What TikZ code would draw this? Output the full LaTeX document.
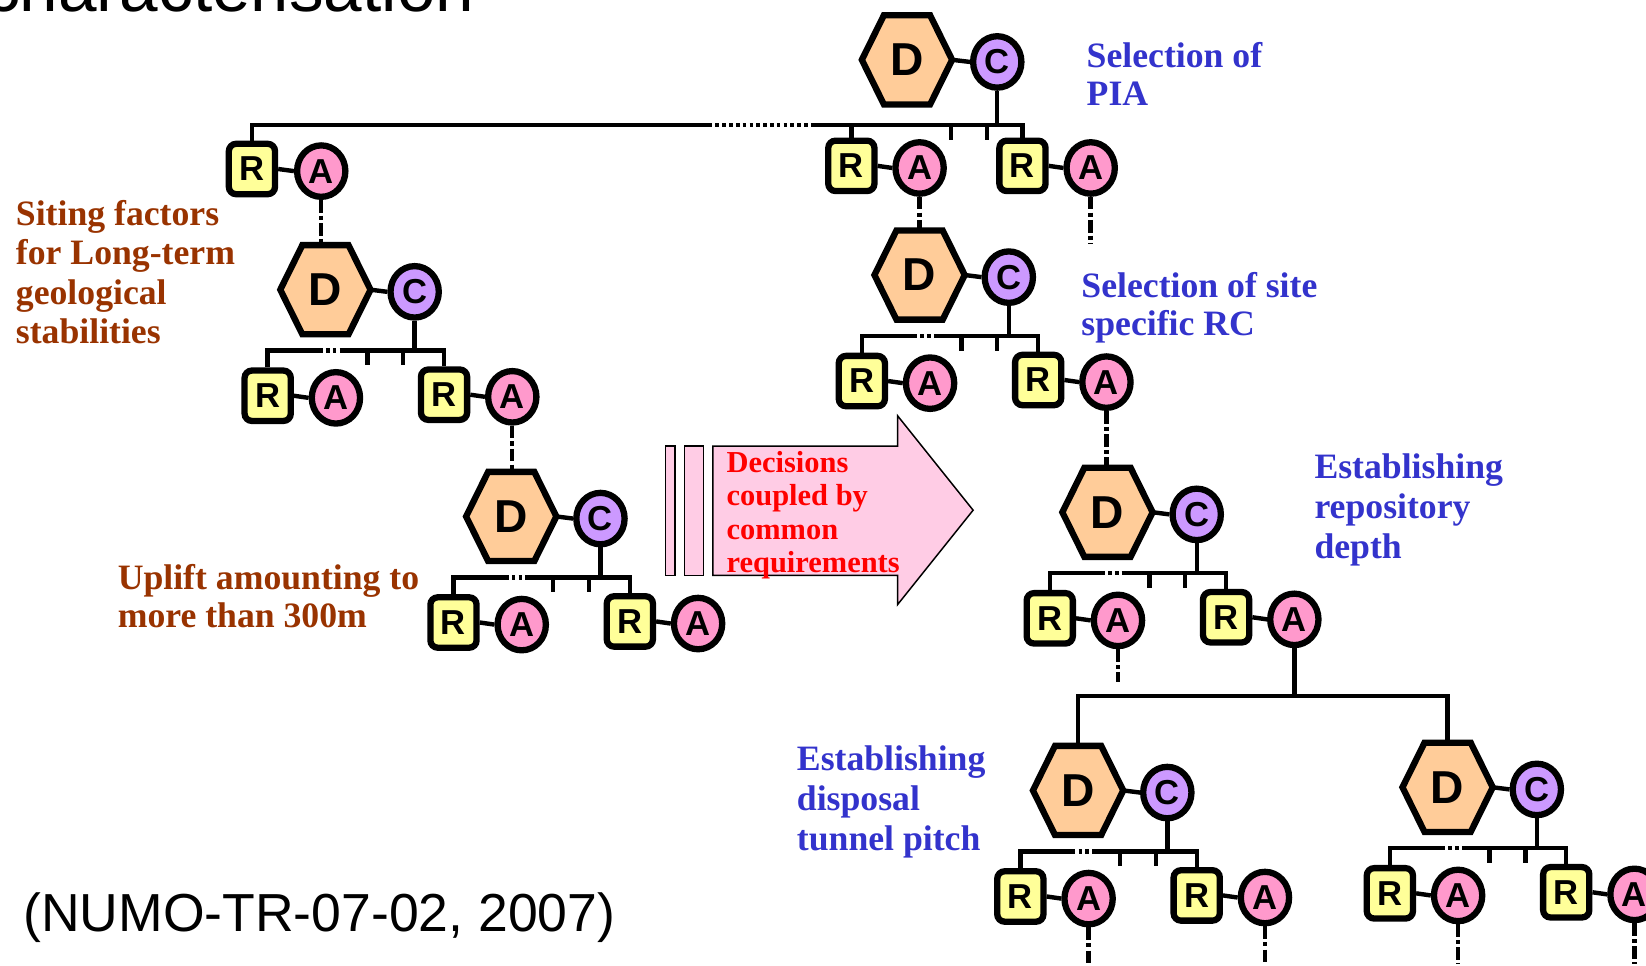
\documentclass[tikz,border=0pt]{standalone}
\usepackage{fontspec}
\setmainfont{Liberation Serif}
\newfontfamily\arialf{Liberation Sans}
\usetikzlibrary{shapes.geometric}
\definecolor{hexfill}{HTML}{FFCC99}
\definecolor{cfill}{HTML}{CC99FF}
\definecolor{rfill}{HTML}{FFFF99}
\definecolor{afill}{HTML}{FF99CC}
\definecolor{arrowfill}{HTML}{FFCCE5}
\definecolor{bluetext}{HTML}{3333CC}
\definecolor{browntext}{HTML}{993300}
\definecolor{redtext}{HTML}{FF0000}
\pgfdeclarelayer{background}
\pgfsetlayers{background,main}
\tikzset{
  hexborder/.style={draw=black, line width=6pt, fill=hexfill, line join=miter},
  hexlabel/.style={rectangle, minimum width=86pt, minimum height=85pt, inner sep=0pt,
    font=\arialf\bfseries\fontsize{44}{44}\selectfont},
  cnode/.style={ellipse, draw=black, line width=6pt, fill=cfill, minimum width=46pt,
    minimum height=49pt, inner sep=0pt, font=\arialf\bfseries\fontsize{33}{33}\selectfont},
  anode/.style={cnode, fill=afill},
  rnode/.style={rectangle, rounded corners=7pt, draw=black, line width=6pt, fill=rfill,
    minimum width=44pt, minimum height=48pt, inner sep=0pt,
    font=\arialf\bfseries\fontsize{33}{33}\selectfont},
  conn/.style={draw=black, line width=4.2pt},
  dotbar/.style={conn, dash pattern=on 3.5pt off 3pt},
  dashdot/.style={conn, dash pattern=on 12pt off 3pt on 4pt off 3pt},
  bluetxt/.style={anchor=north west, inner sep=0pt, align=left, text=bluetext,
    font=\bfseries\fontsize{34}{37}\selectfont},
  browntxt/.style={anchor=north west, inner sep=0pt, align=left, text=browntext,
    font=\bfseries\fontsize{34}{37.5}\selectfont},
  redtxt/.style={anchor=north west, inner sep=0pt, align=left, text=redtext,
    font=\bfseries\fontsize{29}{32}\selectfont},
  arrowshape/.style={draw=black, line width=1.4pt, fill=arrowfill, line join=miter},
}
\newcommand\hexD[3]{%
  \filldraw[hexborder] (#2-43,#3) -- (#2-22,#3-42.5) -- (#2+22,#3-42.5) -- (#2+43,#3)
    -- (#2+22,#3+42.5) -- (#2-22,#3+42.5) -- cycle;
  \node[hexlabel] (#1) at (#2,#3) {D};}
\newcommand\dunit[3]{%
  \hexD{#1d}{#2}{#3}
  \node[cnode] (#1c) at (#2+85,#3+2) {C};
  \node[rnode] (#1r1) at (#2-55,#3+101) {R};
  \node[anode] (#1a1) at (#2+10,#3+103) {A};
  \node[rnode] (#1r2) at (#2+113,#3+100) {R};
  \node[anode] (#1a2) at (#2+178,#3+102) {A};
  \coordinate (#1p) at (#2-6,#3+58);
  \coordinate (#1q) at (#2+16,#3+58);
  \coordinate (#1t1) at (#2+40,#3+58);
  \coordinate (#1t2) at (#2+74,#3+58);
  \begin{pgfonlayer}{background}
    \draw[conn] (#1d.east) -- (#1c.west);
    \draw[conn] (#1c) -- (#1c |- #1p);
    \draw[conn] (#1r1.north) |- (#1p);
    \draw[dotbar] (#1p) -- (#1q);
    \draw[conn] (#1q) -| (#1r2.north);
    \draw[conn] (#1t1) -- ++(0,14);
    \draw[conn] (#1t2) -- ++(0,14);
    \draw[conn] (#1r1.east) -- (#1a1.west);
    \draw[conn] (#1r2.east) -- (#1a2.west);
  \end{pgfonlayer}}
\begin{document}
\begin{tikzpicture}[x=1pt,y=-1pt]
\useasboundingbox (0,0) rectangle (1568,920);
\begin{pgfonlayer}{background}
  \fill[white] (0,0) rectangle (1568,920);
\end{pgfonlayer}
\clip (0,0) rectangle (1568,920);

% title fragment and reference
\node[font=\arialf\fontsize{66}{66}\selectfont, anchor=base east, inner sep=0pt] (title) at (452,10.5) {characterisation};
\node[font=\arialf\fontsize{51}{51}\selectfont, anchor=base west, inner sep=0pt] (ref) at (22,887) {(NUMO-TR-07-02, 2007)};

% top unit
\hexD{u0d}{864}{57}
\node[cnode] (u0c) at (950,59) {C};
\node[rnode] (u0r1) at (240,161) {R};
\node[anode] (u0a1) at (306,163) {A};
\node[rnode] (u0r2) at (811,158) {R};
\node[anode] (u0a2) at (876,160) {A};
\node[rnode] (u0r3) at (974,158) {R};
\node[anode] (u0a3) at (1039,160) {A};
\coordinate (u0p) at (675,119);
\coordinate (u0q) at (775,119);
\coordinate (u0t1) at (906,119);
\coordinate (u0t2) at (940,119);
\coordinate (u0s) at (1039,232);
\begin{pgfonlayer}{background}
  \draw[conn] (u0d.east) -- (u0c.west);
  \draw[conn] (u0c) -- (u0c |- u0p);
  \draw[conn] (u0r1.north) |- (u0p);
  \draw[dotbar] (u0p) -- (u0q);
  \draw[conn] (u0q) -| (u0r3.north);
  \draw[conn] (u0r2.north) -- (u0r2.north |- u0p);
  \draw[conn] (u0t1) -- ++(0,14);
  \draw[conn] (u0t2) -- ++(0,14);
  \draw[conn] (u0r1.east) -- (u0a1.west);
  \draw[conn] (u0r2.east) -- (u0a2.west);
  \draw[conn] (u0r3.east) -- (u0a3.west);
  \draw[dashdot] (u0a3.south) -- (u0s);
\end{pgfonlayer}

% other units
\dunit{u1}{310}{276}
\dunit{u2}{487}{492}
\dunit{u3}{876}{262}
\dunit{u4}{1055}{488}
\dunit{u5}{1027}{753}
\dunit{u6}{1379}{750}

\coordinate (bb) at (1233,663);
\coordinate (u4s) at (1065,650);
\coordinate (u5s1) at (1037,918);
\coordinate (u5s2) at (1205,918);
\coordinate (u6s1) at (1389,918);
\coordinate (u6s2) at (1557,918);
\begin{pgfonlayer}{background}
  \draw[dashdot] (u0a1.south) -- (u0a1.south |- u1d.north);
  \draw[dashdot] (u0a2.south) -- (u0a2.south |- u3d.north);
  \draw[dashdot] (u1a2.south) -- (u1a2.south |- u2d.north);
  \draw[dashdot] (u3a2.south) -- (u3a2.south |- u4d.north);
  \draw[dashdot] (u4a1.south) -- (u4s);
  \draw[conn] (u4a2.south) -- (bb);
  \draw[conn] (u5d.north) |- (bb) -| (u6d.north);
  \draw[dashdot] (u5a1.south) -- (u5s1);
  \draw[dashdot] (u5a2.south) -- (u5s2);
  \draw[dashdot] (u6a1.south) -- (u6s1);
  \draw[dashdot] (u6a2.south) -- (u6s2);
\end{pgfonlayer}

% coupling arrow
\filldraw[arrowshape] (634,425) rectangle (643,548);
\filldraw[arrowshape] (652,425) rectangle (670,548);
\filldraw[arrowshape] (679,425) -- (855,425) -- (855,396) -- (927,486) -- (855,576) -- (855,548) -- (679,548) -- cycle;
\node[redtxt] (t7) at (692,429.5) {Decisions\\coupled by\\common\\requirements};

% labels
\node[bluetxt, font=\bfseries\fontsize{34}{36}\selectfont] (t1) at (1035,40.5) {Selection of\\PIA};
\node[bluetxt, font=\bfseries\fontsize{34}{36}\selectfont] (t2) at (1030,259.5) {Selection of site\\specific RC};
\node[bluetxt, font=\bfseries\fontsize{34}{38}\selectfont] (t3) at (1252,432.5) {Establishing\\repository\\depth};
\node[bluetxt, font=\bfseries\fontsize{34}{38}\selectfont] (t4) at (759,710.5) {Establishing\\disposal\\tunnel pitch};
\node[browntxt] (t5) at (15,190.5) {Siting factors\\for Long-term\\geological\\stabilities};
\node[browntxt, font=\bfseries\fontsize{34}{36}\selectfont] (t6) at (112,537.5) {Uplift amounting to\\more than 300m};
\end{tikzpicture}
\end{document}
